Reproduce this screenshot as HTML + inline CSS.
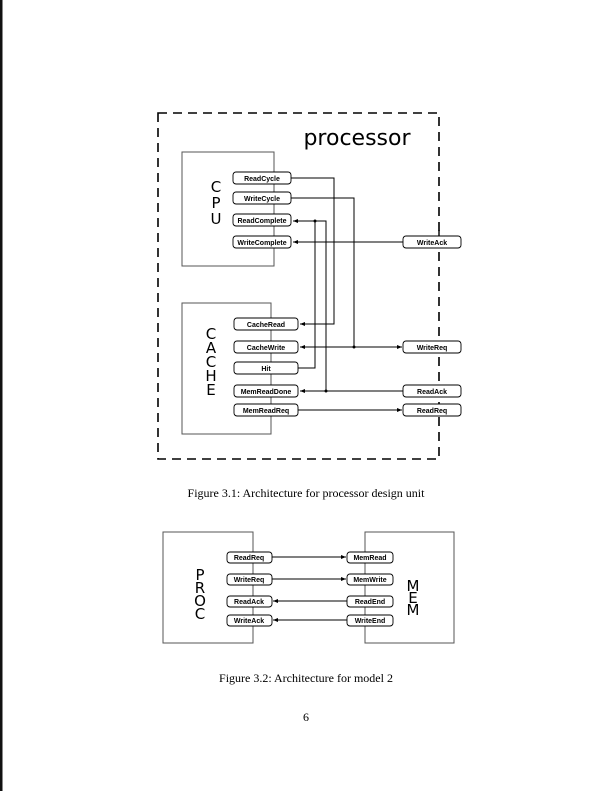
<!DOCTYPE html>
<html><head><meta charset="utf-8"><style>
html,body{margin:0;padding:0;background:#fff;}
svg{display:block;}
.p{font-family:"Liberation Sans",sans-serif;font-size:7px;font-weight:bold;text-anchor:middle;}
.L{font-family:"DejaVu Sans","Liberation Sans",sans-serif;font-size:15px;text-anchor:middle;}
.c{font-family:"Liberation Serif",serif;font-size:12px;text-anchor:middle;}
</style></head><body>
<svg width="612" height="791" viewBox="0 0 612 791" xmlns="http://www.w3.org/2000/svg">
<defs><marker id="a" markerWidth="6" markerHeight="6" refX="5" refY="3" orient="auto" markerUnits="userSpaceOnUse"><path d="M0,1 L5,3 L0,5z" fill="#000"/></marker></defs>
<rect x="0" y="0" width="2.5" height="791" fill="#111"/>
<rect x="158" y="113" width="281" height="346" fill="none" stroke="#000" stroke-width="1.6" stroke-dasharray="9,6"/>
<text x="357" y="145" font-family="DejaVu Sans,Liberation Sans,sans-serif" font-size="22" text-anchor="middle">processor</text>
<rect x="182" y="152" width="92" height="114" fill="none" stroke="#555" stroke-width="1"/>
<text class="L" x="216" y="192">C</text><text class="L" x="216" y="208">P</text><text class="L" x="216" y="224">U</text>
<rect x="182" y="303" width="89" height="131" fill="none" stroke="#555" stroke-width="1"/>
<text class="L" x="211" y="339">C</text><text class="L" x="211" y="353">A</text><text class="L" x="211" y="367">C</text><text class="L" x="211" y="381">H</text><text class="L" x="211" y="395">E</text>
<g fill="none" stroke="#000" stroke-width="1">
<polyline points="291,178 334,178 334,324 300,324" marker-end="url(#a)"/>
<polyline points="291,198 354,198 354,347"/>
<polyline points="326,391 326,221 293,221" marker-end="url(#a)"/>
<polyline points="298,368 315,368 315,221"/>
<line x1="403" y1="242" x2="293" y2="242" marker-end="url(#a)"/>
<line x1="354" y1="347" x2="300" y2="347" marker-end="url(#a)"/>
<line x1="354" y1="347" x2="402" y2="347" marker-end="url(#a)"/>
<line x1="403" y1="391" x2="300" y2="391" marker-end="url(#a)"/>
<line x1="298" y1="410" x2="402" y2="410" marker-end="url(#a)"/>
</g>
<g fill="#000"><circle cx="315" cy="221" r="1.5"/><circle cx="354" cy="347" r="1.5"/><circle cx="326" cy="391" r="1.5"/></g>
<g fill="#fff" stroke="#000" stroke-width="0.9">
<rect x="233" y="172" width="58" height="12" rx="3"/>
<rect x="233" y="192" width="58" height="12" rx="3"/>
<rect x="233" y="214" width="58" height="12" rx="3"/>
<rect x="233" y="236" width="58" height="12" rx="3"/>
<rect x="234" y="318" width="64" height="12" rx="3"/>
<rect x="234" y="341" width="64" height="12" rx="3"/>
<rect x="234" y="362" width="64" height="12" rx="3"/>
<rect x="234" y="385" width="64" height="12" rx="3"/>
<rect x="234" y="404" width="64" height="12" rx="3"/>
<rect x="403" y="236" width="58" height="12" rx="3"/>
<rect x="403" y="341" width="58" height="12" rx="3"/>
<rect x="403" y="385" width="58" height="12" rx="3"/>
<rect x="403" y="404" width="58" height="12" rx="3"/>
</g>
<line x1="439" y1="230" x2="439" y2="236" stroke="#000" stroke-width="1.4"/>
<g class="p">
<text x="262" y="181">ReadCycle</text>
<text x="262" y="201">WriteCycle</text>
<text x="262" y="223">ReadComplete</text>
<text x="262" y="245">WriteComplete</text>
<text x="266" y="327">CacheRead</text>
<text x="266" y="350">CacheWrite</text>
<text x="266" y="371">Hit</text>
<text x="266" y="394">MemReadDone</text>
<text x="266" y="413">MemReadReq</text>
<text x="432" y="245">WriteAck</text>
<text x="432" y="350">WriteReq</text>
<text x="432" y="394">ReadAck</text>
<text x="432" y="413">ReadReq</text>
</g>
<text class="c" x="306" y="497">Figure 3.1: Architecture for processor design unit</text>
<rect x="163" y="532" width="90" height="111" fill="none" stroke="#555" stroke-width="1"/>
<rect x="365" y="532" width="89" height="111" fill="none" stroke="#555" stroke-width="1"/>
<text class="L" x="200" y="580">P</text><text class="L" x="200" y="593">R</text><text class="L" x="200" y="606">O</text><text class="L" x="200" y="619">C</text>
<text class="L" x="413" y="591">M</text><text class="L" x="413" y="603">E</text><text class="L" x="413" y="615">M</text>
<g fill="none" stroke="#000" stroke-width="1">
<line x1="272" y1="557" x2="346" y2="557" marker-end="url(#a)"/>
<line x1="272" y1="579" x2="346" y2="579" marker-end="url(#a)"/>
<line x1="347" y1="601" x2="273" y2="601" marker-end="url(#a)"/>
<line x1="347" y1="620" x2="273" y2="620" marker-end="url(#a)"/>
</g>
<g fill="#fff" stroke="#000" stroke-width="0.9">
<rect x="227" y="552" width="45" height="11" rx="3"/>
<rect x="227" y="574" width="45" height="11" rx="3"/>
<rect x="227" y="596" width="45" height="11" rx="3"/>
<rect x="227" y="615" width="45" height="11" rx="3"/>
<rect x="347" y="552" width="46" height="11" rx="3"/>
<rect x="347" y="574" width="46" height="11" rx="3"/>
<rect x="347" y="596" width="46" height="11" rx="3"/>
<rect x="347" y="615" width="46" height="11" rx="3"/>
</g>
<g class="p">
<text x="249" y="560">ReadReq</text>
<text x="249" y="582">WriteReq</text>
<text x="249" y="604">ReadAck</text>
<text x="249" y="623">WriteAck</text>
<text x="370" y="560">MemRead</text>
<text x="370" y="582">MemWrite</text>
<text x="370" y="604">ReadEnd</text>
<text x="370" y="623">WriteEnd</text>
</g>
<text class="c" x="306" y="682">Figure 3.2: Architecture for model 2</text>
<text class="c" x="306" y="721">6</text>
</svg>
</body></html>
